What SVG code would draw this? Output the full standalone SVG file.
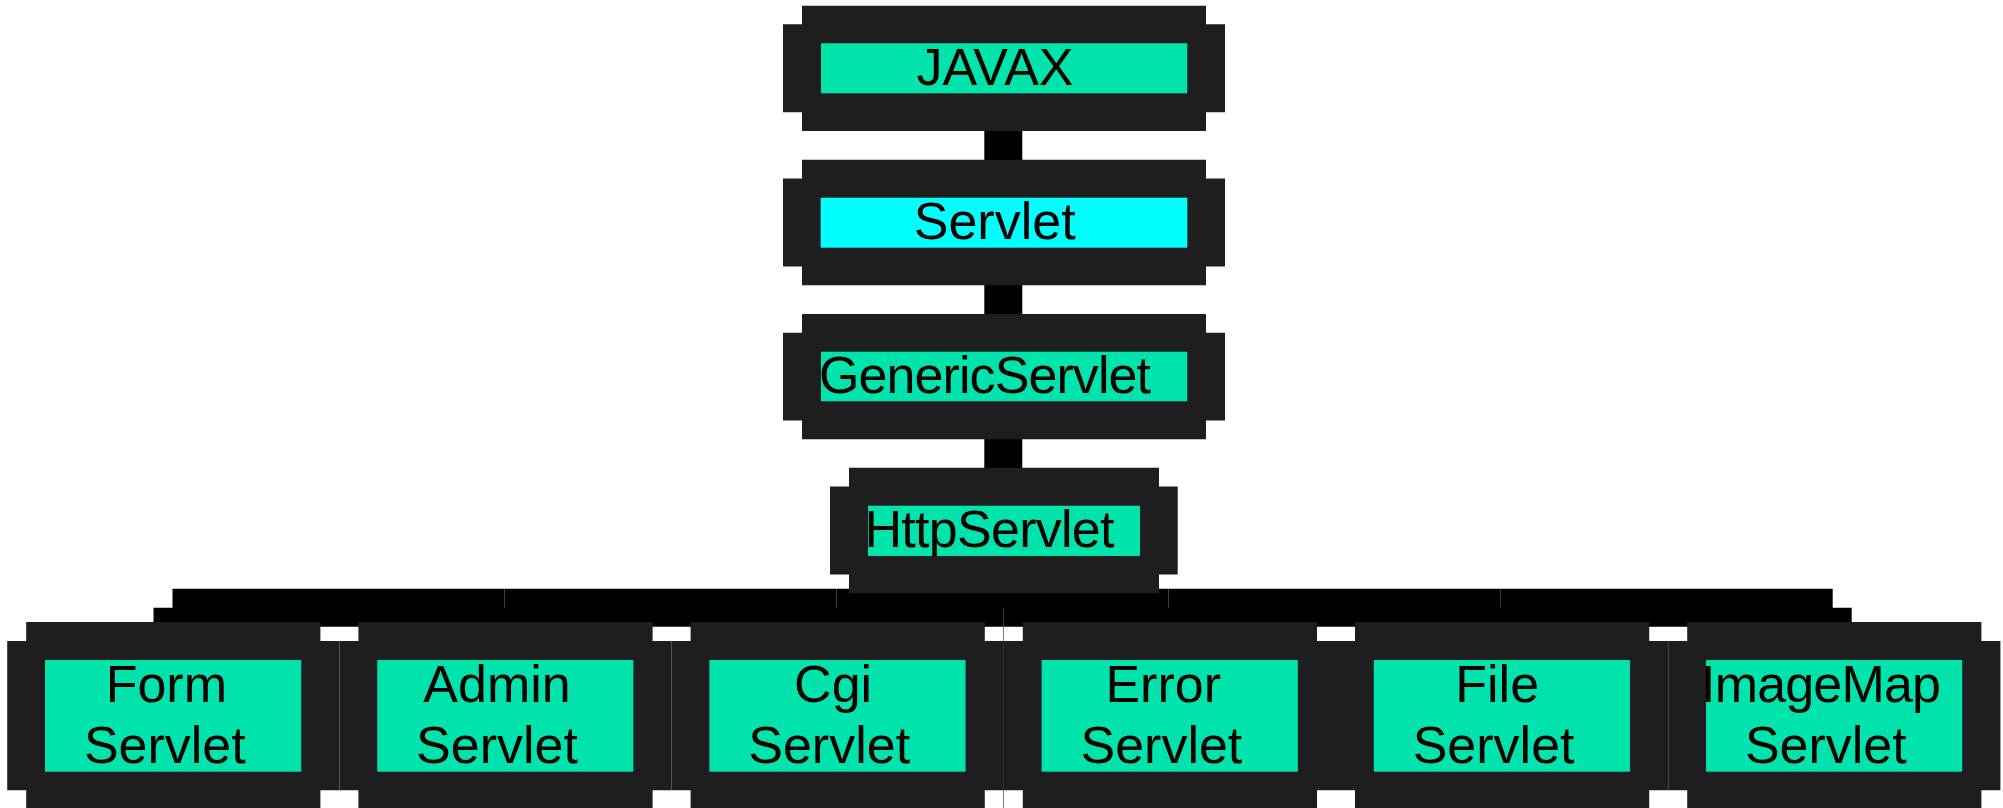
<svg xmlns="http://www.w3.org/2000/svg" width="2003" height="808" viewBox="0 0 2003 808">
  <style>
    .frame { fill: #1e1e1e; }
    .body { fill: #00e4ab; }
    .body.iface { fill: #00ffff; }
    .link { stroke: #000; stroke-width: 38; fill: none; stroke-linecap: butt; }
    .hair { stroke: #7a7a7a; stroke-width: 1; }
    .label { font-family: "Liberation Sans", Arial, Helvetica, sans-serif; font-size: 52px; fill: #000; text-anchor: middle; }
    .label.fit { text-anchor: start; }
  </style>
  <defs>
    <clipPath id="c-javax"><rect x="821" y="43.3" width="366.3" height="50"/></clipPath>
    <clipPath id="c-servlet"><rect x="820.7" y="197.7" width="366.6" height="50"/></clipPath>
    <clipPath id="c-generic"><rect x="821" y="351.7" width="366.3" height="49.6"/></clipPath>
    <clipPath id="c-http"><rect x="868" y="505.7" width="272" height="50.3"/></clipPath>
    <clipPath id="c-form"><rect x="45" y="660" width="256.2" height="111.7"/></clipPath>
    <clipPath id="c-admin"><rect x="377.2" y="660" width="256.2" height="111.7"/></clipPath>
    <clipPath id="c-cgi"><rect x="709.4" y="660" width="256.2" height="111.7"/></clipPath>
    <clipPath id="c-error"><rect x="1041.6" y="660" width="256.2" height="111.7"/></clipPath>
    <clipPath id="c-file"><rect x="1373.8" y="660" width="256.2" height="111.7"/></clipPath>
    <clipPath id="c-imagemap"><rect x="1706" y="660" width="256.2" height="111.7"/></clipPath>
  </defs>

  <rect width="2003" height="808" fill="#fff"/>

  <!-- inheritance links -->
  <g id="connectors">
    <path class="link" d="M1003.3 125 V165"/>
    <path class="link" d="M1003.3 280 V320"/>
    <path class="link" d="M1003.3 434 V473"/>
    <!-- HttpServlet fan-out: stem, bus segments, drops -->
    <path class="link" d="M1003.3 580 V607.8"/>
    <path class="link" d="M1003.3 607.8 H836.6"/>
    <path class="link" d="M836.6 607.8 H504.5"/>
    <path class="link" d="M504.5 607.8 H172.5"/>
    <path class="link" d="M1003.3 607.8 H1168.6"/>
    <path class="link" d="M1168.6 607.8 H1500.7"/>
    <path class="link" d="M1500.7 607.8 H1832.7"/>
    <path class="link" d="M172.5 607.8 V630"/>
    <path class="link" d="M504.5 607.8 V630"/>
    <path class="link" d="M836.6 607.8 V630"/>
    <path class="link" d="M1168.6 607.8 V630"/>
    <path class="link" d="M1500.7 607.8 V630"/>
    <path class="link" d="M1832.7 607.8 V630"/>
    <line class="hair" x1="1003.5" y1="626" x2="1003.5" y2="808"/>
  </g>

  <g id="node-javax">
    <path class="frame" d="M802 5.7 H1206 V24.3 H1225 V112.3 H1206 V131 H802 V112.3 H783 V24.3 H802 Z"/>
    <rect class="body" x="821" y="43.3" width="366.3" height="50"/>
    <text class="label" x="995" y="85" clip-path="url(#c-javax)">JAVAX</text>
  </g>

  <g id="node-servlet">
    <path class="frame" d="M802 159.7 H1206 V178.5 H1225 V266.5 H1206 V285.2 H802 V266.5 H783 V178.5 H802 Z"/>
    <rect class="body iface" x="820.7" y="197.7" width="366.6" height="50"/>
    <text class="label" x="994.7" y="239.3" clip-path="url(#c-servlet)">Servlet</text>
  </g>

  <g id="node-genericservlet">
    <path class="frame" d="M802 314 H1206 V332.8 H1225 V420.6 H1206 V439.3 H802 V420.6 H783 V332.8 H802 Z"/>
    <rect class="body" x="821" y="351.7" width="366.3" height="49.6"/>
    <text class="label fit" x="819" y="393.3" textLength="332" lengthAdjust="spacing" clip-path="url(#c-generic)">GenericServlet</text>
  </g>

  <g id="node-httpservlet">
    <path class="frame" d="M849 467.7 H1159 V486.6 H1177.7 V574.4 H1159 V593.3 H849 V574.4 H830 V486.6 H849 Z"/>
    <rect class="body" x="868" y="505.7" width="272" height="50.3"/>
    <text class="label fit" x="864.5" y="547.3" textLength="250" lengthAdjust="spacing" clip-path="url(#c-http)">HttpServlet</text>
  </g>

  <g id="node-formservlet">
    <path class="frame" d="M26.2 622 H320.4 V641 H339.4 V790.3 H320.4 V809.3 H26.2 V790.3 H7.2 V641 H26.2 Z"/>
    <rect class="body" x="45" y="660" width="256.2" height="111.7"/>
    <g clip-path="url(#c-form)">
      <text class="label" x="166.3" y="701.7">Form</text>
      <text class="label" x="164.8" y="763.3">Servlet</text>
    </g>
  </g>

  <g id="node-adminservlet">
    <path class="frame" d="M358.4 622 H652.6 V641 H671.6 V790.3 H652.6 V809.3 H358.4 V790.3 H339.4 V641 H358.4 Z"/>
    <rect class="body" x="377.2" y="660" width="256.2" height="111.7"/>
    <g clip-path="url(#c-admin)">
      <text class="label" x="497" y="701.7">Admin</text>
      <text class="label" x="497" y="763.3">Servlet</text>
    </g>
  </g>

  <g id="node-cgiservlet">
    <path class="frame" d="M690.6 622 H984.8 V641 H1003.8 V790.3 H984.8 V809.3 H690.6 V790.3 H671.6 V641 H690.6 Z"/>
    <rect class="body" x="709.4" y="660" width="256.2" height="111.7"/>
    <g clip-path="url(#c-cgi)">
      <text class="label" x="833.1" y="701.7">Cgi</text>
      <text class="label" x="829.2" y="763.3">Servlet</text>
    </g>
  </g>

  <g id="node-errorservlet">
    <path class="frame" d="M1022.8 622 H1317 V641 H1336 V790.3 H1317 V809.3 H1022.8 V790.3 H1003.8 V641 H1022.8 Z"/>
    <rect class="body" x="1041.6" y="660" width="256.2" height="111.7"/>
    <g clip-path="url(#c-error)">
      <text class="label" x="1163.2" y="701.7">Error</text>
      <text class="label" x="1161.4" y="763.3">Servlet</text>
    </g>
  </g>

  <g id="node-fileservlet">
    <path class="frame" d="M1355 622 H1649.2 V641 H1668.2 V790.3 H1649.2 V809.3 H1355 V790.3 H1336 V641 H1355 Z"/>
    <rect class="body" x="1373.8" y="660" width="256.2" height="111.7"/>
    <g clip-path="url(#c-file)">
      <text class="label" x="1497.2" y="701.7">File</text>
      <text class="label" x="1493.6" y="763.3">Servlet</text>
    </g>
  </g>

  <g id="node-imagemapservlet">
    <path class="frame" d="M1687.2 622 H1981.4 V641 H2000.4 V790.3 H1981.4 V809.3 H1687.2 V790.3 H1668.2 V641 H1687.2 Z"/>
    <rect class="body" x="1706" y="660" width="256.2" height="111.7"/>
    <g clip-path="url(#c-imagemap)">
      <text class="label fit" x="1701" y="701.7" textLength="240" lengthAdjust="spacing">ImageMap</text>
      <text class="label" x="1825.8" y="763.3">Servlet</text>
    </g>
  </g>
</svg>
